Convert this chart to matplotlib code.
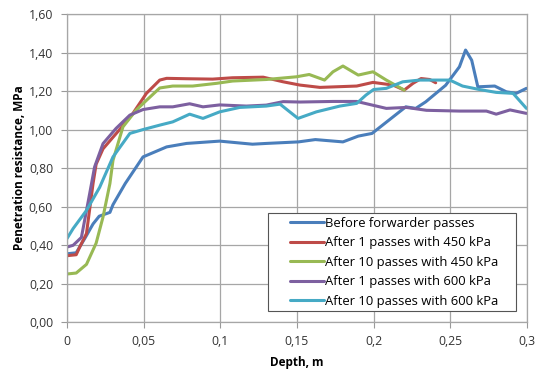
import matplotlib
matplotlib.use("Agg")
import matplotlib.pyplot as plt
from matplotlib.patches import Rectangle

# Depth (m) and penetration resistance (MPa)
before_x = [0, 0.006, 0.012, 0.017, 0.021, 0.028, 0.030, 0.038, 0.0496, 0.065,
            0.078, 0.0996, 0.121, 0.13, 0.151, 0.162, 0.18, 0.19, 0.199, 0.21,
            0.221, 0.2275, 0.234, 0.247, 0.256, 0.26, 0.264, 0.268, 0.279,
            0.2866, 0.293, 0.2997]
before_y = [0.355, 0.36, 0.44, 0.51, 0.55, 0.57, 0.61, 0.72, 0.858, 0.91,
            0.928, 0.94, 0.924, 0.928, 0.936, 0.948, 0.936, 0.966, 0.98, 1.049,
            1.118, 1.11, 1.144, 1.23, 1.326, 1.413, 1.36, 1.222, 1.226,
            1.196, 1.188, 1.214]

p1_450_x = [0, 0.006, 0.0083, 0.0127, 0.017, 0.019, 0.0235, 0.034, 0.043, 0.0518,
            0.0605, 0.065, 0.078, 0.095, 0.108, 0.128, 0.141, 0.152, 0.165,
            0.189, 0.1996, 0.2127, 0.22, 0.2257, 0.231, 0.2366, 0.2405]
p1_450_y = [0.345, 0.35, 0.39, 0.46, 0.72, 0.82, 0.90, 0.997, 1.084, 1.188,
            1.257, 1.266, 1.264, 1.262, 1.269, 1.272, 1.248, 1.231, 1.219,
            1.226, 1.245, 1.231, 1.205, 1.24, 1.265, 1.26, 1.243]

p10_450_x = [0, 0.006, 0.0127, 0.019, 0.0235, 0.028, 0.030, 0.0365, 0.045, 0.052,
             0.0605, 0.069, 0.082, 0.0975, 0.108, 0.13, 0.1496, 0.158, 0.168,
             0.1735, 0.18, 0.19, 0.1996, 0.2083, 0.22]
p10_450_y = [0.25, 0.255, 0.30, 0.41, 0.546, 0.72, 0.84, 1.014, 1.10, 1.153,
             1.216, 1.226, 1.226, 1.24, 1.252, 1.26, 1.274, 1.286, 1.257,
             1.30, 1.33, 1.283, 1.30, 1.257, 1.205]

p1_600_x = [0, 0.004, 0.0094, 0.0148, 0.018, 0.0235, 0.032, 0.041, 0.0496, 0.0605,
            0.069, 0.08, 0.0887, 0.0996, 0.117, 0.13, 0.141, 0.152, 0.1735,
            0.189, 0.204, 0.2083, 0.2214, 0.2345, 0.256, 0.2736, 0.28, 0.289,
            0.2997]
p1_600_y = [0.39, 0.399, 0.44, 0.668, 0.806, 0.927, 1.006, 1.075, 1.104, 1.118,
            1.118, 1.134, 1.118, 1.128, 1.122, 1.127, 1.145, 1.143, 1.146,
            1.146, 1.118, 1.11, 1.115, 1.10, 1.096, 1.096, 1.08, 1.102,
            1.084]

p10_600_x = [0, 0.004, 0.0127, 0.0213, 0.030, 0.041, 0.0496, 0.0605, 0.069, 0.08,
             0.0887, 0.0996, 0.1127, 0.13, 0.139, 0.1453, 0.1507, 0.1627, 0.178,
             0.189, 0.195, 0.2, 0.2083, 0.219, 0.23, 0.2497, 0.258, 0.269, 0.28,
             0.291, 0.2997]
p10_600_y = [0.434, 0.486, 0.58, 0.70, 0.858, 0.98, 1.0, 1.023, 1.04, 1.08,
             1.058, 1.092, 1.115, 1.122, 1.132, 1.092, 1.058, 1.092, 1.122,
             1.136, 1.179, 1.208, 1.214, 1.248, 1.257, 1.257, 1.226, 1.208, 1.193,
             1.188, 1.11]

series_labels = [
    "Before forwarder passes",
    "After 1 passes with 450 kPa",
    "After 10 passes with 450 kPa",
    "After 1 passes with 600 kPa",
    "After 10 passes with 600 kPa",
]
series_colors = ["#4a7ebb", "#be4b48", "#98b954", "#7d60a0", "#46aac5"]

x_ticks = [0, 0.05, 0.1, 0.15, 0.2, 0.25, 0.3]
x_tick_labels = ["0", "0,05", "0,1", "0,15", "0,2", "0,25", "0,3"]
y_ticks = [0, 0.2, 0.4, 0.6, 0.8, 1.0, 1.2, 1.4, 1.6]
y_tick_labels = ["0,00", "0,20", "0,40", "0,60", "0,80", "1,00", "1,20", "1,40", "1,60"]

plt.rcParams["font.family"] = ["Open Sans", "DejaVu Sans"]

fig = plt.figure(figsize=(5.36, 3.69), dpi=100)
ax = fig.add_axes([0.125, 0.127, 0.858, 0.835])

data = [
    (before_x, before_y),
    (p1_450_x, p1_450_y),
    (p10_450_x, p10_450_y),
    (p1_600_x, p1_600_y),
    (p10_600_x, p10_600_y),
]
for (xs, ys), label, color in zip(data, series_labels, series_colors):
    ax.plot(xs, ys, color=color, linewidth=2.2, label=label,
            solid_joinstyle="round", solid_capstyle="round")

ax.set_xlim(0, 0.3)
ax.set_ylim(0, 1.6)
ax.set_xticks(x_ticks)
ax.set_xticklabels(x_tick_labels)
ax.set_yticks(y_ticks)
ax.set_yticklabels(y_tick_labels)
ax.tick_params(axis="both", labelsize=8.8, colors="#333333", length=4,
               width=0.8)
ax.tick_params(axis="x", pad=5)
ax.tick_params(axis="y", pad=6)
ax.tick_params(axis="both", color="#999999")

ax.grid(True, color="#a6a6a6", linewidth=0.9)
for side, spine in ax.spines.items():
    spine.set_color("#a6a6a6")
    spine.set_linewidth(0.9)

ax.set_xlabel("Depth, m", fontsize=8.5, fontweight="bold", labelpad=6)
ax.set_ylabel("Penetration resistance, MPa", fontsize=8.5, fontweight="bold",
              labelpad=2)

# Excel-style legend box: wide side padding, tight top/bottom
ax.add_patch(Rectangle((0.437, 0.036), 0.539, 0.318, transform=ax.transAxes,
                       facecolor="white", edgecolor="#555555", linewidth=0.8,
                       zorder=5))
leg = ax.legend(loc="upper left", bbox_to_anchor=(0.484, 0.342),
                fontsize=9.4, frameon=False, handlelength=2.6,
                handletextpad=0.1, borderpad=0, borderaxespad=0,
                labelspacing=0.5)
leg.set_zorder(6)

fig.savefig("out.png", dpi=100)
